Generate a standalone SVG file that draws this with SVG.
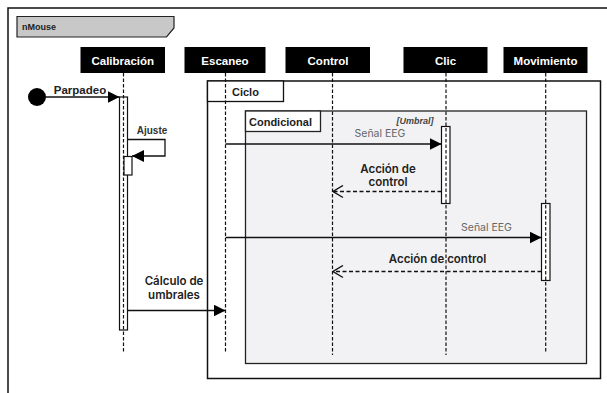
<svg xmlns="http://www.w3.org/2000/svg" width="607" height="393" viewBox="0 0 607 393">
<defs>
<style>
.frame{fill:none;stroke:#111;stroke-width:1.5}
.hdr{fill:#000}
.hdrt{fill:#fff;font-family:"Liberation Sans",Arial,sans-serif;font-weight:bold;font-size:11.5px;text-anchor:middle}
.life{stroke:#111;stroke-width:1.2;stroke-dasharray:3.5,2;fill:none}
.act{fill:#fff;stroke:#111;stroke-width:1.2}
.msg{stroke:#111;stroke-width:1.3;fill:none}
.ret{stroke:#111;stroke-width:1.3;fill:none;stroke-dasharray:4,2.5}
.lbl{font-family:Inter,"Liberation Sans",sans-serif;font-weight:600;font-size:11.5px;fill:#222;text-anchor:middle}
.sig{font-family:Inter,"Liberation Sans",sans-serif;font-size:10.5px;fill:#666;text-anchor:middle}
.tab{font-family:"Liberation Sans",Arial,sans-serif;font-weight:bold;font-size:11px;fill:#222}
</style>
<marker id="fa" viewBox="0 0 12 12" refX="12" refY="6" markerWidth="12" markerHeight="12" markerUnits="userSpaceOnUse" orient="auto">
<path d="M0,0 L12,6 L0,12 Z" fill="#000"/>
</marker>
<marker id="oa" viewBox="-1 -1 12 14" refX="10" refY="6" markerWidth="12" markerHeight="14" markerUnits="userSpaceOnUse" orient="auto">
<path d="M0,0 L10,6 L0,12" fill="none" stroke="#111" stroke-width="1.4"/>
</marker>
</defs>
<rect width="607" height="393" fill="#fff"/>
<g id="outer-frame">
<rect x="8" y="8" width="620" height="410" class="frame"/>
<path d="M17,16.5 H174 V28 L166.5,37 H17 Z" fill="#c8c8c8" stroke="#222" stroke-width="1.2"/>
<text x="22" y="30" font-family="'Liberation Sans',Arial,sans-serif" font-weight="bold" font-size="9" fill="#222">nMouse</text>
</g>
<g id="ciclo">
<rect x="207.5" y="81" width="393" height="297.5" fill="#fff" stroke="#111" stroke-width="1.5"/>
<rect x="207.5" y="81" width="76" height="20.5" fill="#fff" stroke="#111" stroke-width="1.3"/>
<text x="232" y="95.5" class="tab">Ciclo</text>
</g>
<g id="condicional">
<rect x="245.5" y="111" width="341" height="252.5" fill="#f2f2f4" stroke="#222" stroke-width="1.3"/>
<rect x="245.5" y="111" width="75" height="20.5" fill="#fff" stroke="#222" stroke-width="1.3"/>
<text x="249" y="125.5" class="tab">Condicional</text>
<text x="415" y="124" font-family="'Liberation Sans',Arial,sans-serif" font-style="italic" font-weight="bold" font-size="9" fill="#444" text-anchor="middle">[Umbral]</text>
</g>
<g id="calibracion">
<rect x="80.5" y="47" width="84.5" height="26" class="hdr"/>
<text x="122.8" y="64.5" class="hdrt">Calibración</text>
<rect x="119.5" y="97" width="8" height="233" class="act"/>
<line x1="123.5" y1="73" x2="123.5" y2="353" class="life"/>
<rect x="124" y="156.5" width="8" height="18.5" class="act"/>
</g>
<g id="escaneo">
<rect x="184.5" y="47" width="81" height="26" class="hdr"/>
<text x="225" y="64.5" class="hdrt">Escaneo</text>
<line x1="225.5" y1="73" x2="225.5" y2="353" class="life"/>
</g>
<g id="control">
<rect x="285.5" y="47" width="84.5" height="26" class="hdr"/>
<text x="328" y="64.5" class="hdrt">Control</text>
<line x1="332.5" y1="73" x2="332.5" y2="355" class="life"/>
</g>
<g id="clic">
<rect x="403.5" y="47" width="84" height="26" class="hdr"/>
<text x="445.5" y="64.5" class="hdrt">Clic</text>
<rect x="441.5" y="126.5" width="8.5" height="77" class="act"/>
<line x1="446" y1="73" x2="446" y2="355" class="life"/>
</g>
<g id="movimiento">
<rect x="503.5" y="47" width="84" height="26" class="hdr"/>
<text x="545.5" y="64.5" class="hdrt">Movimiento</text>
<rect x="541.5" y="203.5" width="8.5" height="77" class="act"/>
<line x1="545.7" y1="73" x2="545.7" y2="353" class="life"/>
</g>
<g id="start">
<circle cx="37" cy="97" r="9" fill="#000"/>
</g>
<g id="connectors">
<line x1="46" y1="97" x2="119.5" y2="97" class="msg" marker-end="url(#fa)"/>
<text x="80" y="94" font-family="'Liberation Sans',Arial,sans-serif" font-weight="bold" font-size="11.5" fill="#222" text-anchor="middle">Parpadeo</text>
<path d="M127.5,139.5 H165 V156 H132" class="msg" marker-end="url(#fa)"/>
<text x="152" y="134" font-family="'Liberation Sans',Arial,sans-serif" font-weight="bold" font-size="10" fill="#333" text-anchor="middle">Ajuste</text>
<line x1="225.5" y1="144" x2="441.5" y2="144" class="msg" marker-end="url(#fa)"/>
<text x="380" y="137" class="sig">Señal EEG</text>
<line x1="441.5" y1="191.5" x2="333" y2="191.5" class="ret" marker-end="url(#oa)"/>
<text x="388" y="172.5" class="lbl">Acción de</text>
<text x="388" y="186" class="lbl">control</text>
<line x1="225.5" y1="237.5" x2="541.5" y2="237.5" class="msg" marker-end="url(#fa)"/>
<text x="486.5" y="231" class="sig">Señal EEG</text>
<line x1="541.5" y1="271.5" x2="333" y2="271.5" class="ret" marker-end="url(#oa)"/>
<text x="437.5" y="262.5" class="lbl">Acción de control</text>
<line x1="127.5" y1="310.5" x2="225.5" y2="310.5" class="msg" marker-end="url(#fa)"/>
<text x="174" y="285" class="lbl">Cálculo de</text>
<text x="174" y="298.5" class="lbl">umbrales</text>
</g>
</svg>
